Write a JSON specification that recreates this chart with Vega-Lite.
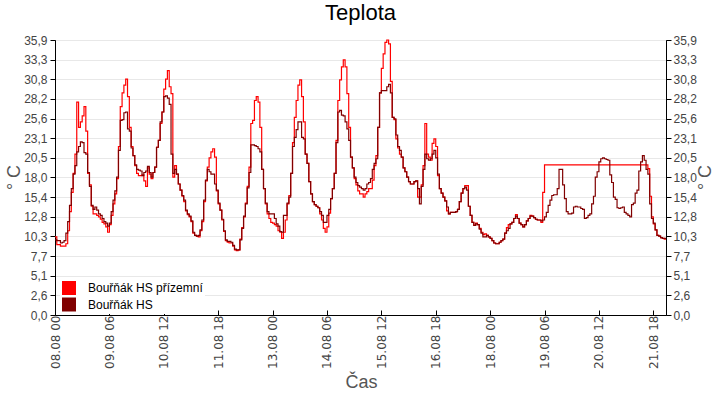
{
  "$schema": "https://vega.github.io/schema/vega-lite/v6.json",
  "width": 611,
  "height": 275,
  "autosize": {"type": "none"},
  "padding": {"left": 55, "top": 40, "right": 54, "bottom": 85},
  "background": "white",
  "title": {"text": "Teplota", "font": "Liberation Sans", "fontSize": 22, "fontWeight": "normal", "color": "#000", "anchor": "middle", "offset": 9},
  "config": {
    "view": {"stroke": "#000", "strokeWidth": 1},
    "axis": {"domainColor": "#000", "tickColor": "#000", "labelColor": "#444", "titleColor": "#555", "titleFontWeight": "normal", "labelFlush": false, "labelOverlap": false}
  },
  "data": {"values": [
    {"t":"2018-08-08T00:00","p":10.2,"h":9.8},{"t":"2018-08-08T01:00","p":9.2,"h":9.7},{"t":"2018-08-08T02:00","p":9.2,"h":9.7},{"t":"2018-08-08T03:00","p":9.0,"h":9.4},
    {"t":"2018-08-08T04:00","p":9.0,"h":9.5},{"t":"2018-08-08T05:00","p":9.0,"h":9.7},{"t":"2018-08-08T06:00","p":9.3,"h":10.7},{"t":"2018-08-08T07:00","p":11.0,"h":12.2},
    {"t":"2018-08-08T08:00","p":13.5,"h":14.3},{"t":"2018-08-08T09:00","p":16.0,"h":16.5},{"t":"2018-08-08T10:00","p":18.5,"h":18.4},{"t":"2018-08-08T11:00","p":21.0,"h":19.5},
    {"t":"2018-08-08T12:00","p":27.8,"h":21.3},{"t":"2018-08-08T13:00","p":24.5,"h":22.0},{"t":"2018-08-08T14:00","p":25.2,"h":22.6},{"t":"2018-08-08T15:00","p":26.0,"h":22.5},
    {"t":"2018-08-08T16:00","p":27.2,"h":21.2},{"t":"2018-08-08T17:00","p":24.0,"h":21.0},{"t":"2018-08-08T18:00","p":18.5,"h":18.6},{"t":"2018-08-08T19:00","p":17.0,"h":16.8},
    {"t":"2018-08-08T20:00","p":14.2,"h":14.3},{"t":"2018-08-08T21:00","p":13.2,"h":13.8},{"t":"2018-08-08T22:00","p":13.2,"h":14.1},{"t":"2018-08-08T23:00","p":13.0,"h":13.7},
    {"t":"2018-08-09T00:00","p":12.8,"h":13.2},{"t":"2018-08-09T01:00","p":12.5,"h":13.0},{"t":"2018-08-09T02:00","p":12.1,"h":12.6},{"t":"2018-08-09T03:00","p":11.9,"h":12.2},
    {"t":"2018-08-09T04:00","p":11.5,"h":12.0},{"t":"2018-08-09T05:00","p":10.8,"h":11.6},{"t":"2018-08-09T06:00","p":11.8,"h":12.0},{"t":"2018-08-09T07:00","p":13.0,"h":13.5},
    {"t":"2018-08-09T08:00","p":14.5,"h":15.0},{"t":"2018-08-09T09:00","p":15.8,"h":16.2},{"t":"2018-08-09T10:00","p":17.8,"h":18.0},{"t":"2018-08-09T11:00","p":22.0,"h":21.5},
    {"t":"2018-08-09T12:00","p":27.2,"h":25.4},{"t":"2018-08-09T13:00","p":29.0,"h":25.5},{"t":"2018-08-09T14:00","p":30.0,"h":26.4},{"t":"2018-08-09T15:00","p":30.8,"h":26.5},
    {"t":"2018-08-09T16:00","p":28.5,"h":24.3},{"t":"2018-08-09T17:00","p":24.5,"h":24.0},{"t":"2018-08-09T18:00","p":22.0,"h":21.8},{"t":"2018-08-09T19:00","p":20.8,"h":20.8},
    {"t":"2018-08-09T20:00","p":19.5,"h":19.6},{"t":"2018-08-09T21:00","p":18.5,"h":19.0},{"t":"2018-08-09T22:00","p":18.2,"h":18.9},{"t":"2018-08-09T23:00","p":18.2,"h":18.8},
    {"t":"2018-08-10T00:00","p":18.3,"h":18.2},{"t":"2018-08-10T01:00","p":17.5,"h":18.6},{"t":"2018-08-10T02:00","p":16.8,"h":18.8},{"t":"2018-08-10T03:00","p":19.2,"h":19.4},
    {"t":"2018-08-10T04:00","p":18.4,"h":18.6},{"t":"2018-08-10T05:00","p":17.8,"h":18.0},{"t":"2018-08-10T06:00","p":18.6,"h":18.6},{"t":"2018-08-10T07:00","p":19.3,"h":19.3},
    {"t":"2018-08-10T08:00","p":21.9,"h":21.9},{"t":"2018-08-10T09:00","p":22.8,"h":22.8},{"t":"2018-08-10T10:00","p":25.0,"h":25.2},{"t":"2018-08-10T11:00","p":26.5,"h":26.5},
    {"t":"2018-08-10T12:00","p":29.5,"h":28.5},{"t":"2018-08-10T13:00","p":30.8,"h":28.6},{"t":"2018-08-10T14:00","p":31.9,"h":28.3},{"t":"2018-08-10T15:00","p":29.8,"h":27.5},
    {"t":"2018-08-10T16:00","p":28.9,"h":21.0},{"t":"2018-08-10T17:00","p":18.0,"h":18.5},{"t":"2018-08-10T18:00","p":19.5,"h":19.0},{"t":"2018-08-10T19:00","p":18.4,"h":18.4},
    {"t":"2018-08-10T20:00","p":17.1,"h":17.1},{"t":"2018-08-10T21:00","p":16.3,"h":16.3},{"t":"2018-08-10T22:00","p":15.5,"h":15.6},{"t":"2018-08-10T23:00","p":14.8,"h":15.0},
    {"t":"2018-08-11T00:00","p":13.6,"h":13.7},{"t":"2018-08-11T01:00","p":13.1,"h":13.2},{"t":"2018-08-11T02:00","p":12.8,"h":12.9},{"t":"2018-08-11T03:00","p":12.2,"h":12.3},
    {"t":"2018-08-11T04:00","p":10.7,"h":10.8},{"t":"2018-08-11T05:00","p":10.4,"h":10.4},{"t":"2018-08-11T06:00","p":10.3,"h":10.3},{"t":"2018-08-11T07:00","p":10.2,"h":10.4},
    {"t":"2018-08-11T08:00","p":11.0,"h":11.1},{"t":"2018-08-11T09:00","p":12.2,"h":12.4},{"t":"2018-08-11T10:00","p":14.8,"h":15.0},{"t":"2018-08-11T11:00","p":17.5,"h":17.6},
    {"t":"2018-08-11T12:00","p":19.3,"h":19.0},{"t":"2018-08-11T13:00","p":20.5,"h":18.7},{"t":"2018-08-11T14:00","p":21.3,"h":18.4},{"t":"2018-08-11T15:00","p":21.7,"h":18.4},
    {"t":"2018-08-11T16:00","p":20.6,"h":17.1},{"t":"2018-08-11T17:00","p":16.2,"h":16.3},{"t":"2018-08-11T18:00","p":14.5,"h":14.6},{"t":"2018-08-11T19:00","p":13.7,"h":13.7},
    {"t":"2018-08-11T20:00","p":12.4,"h":12.5},{"t":"2018-08-11T21:00","p":10.9,"h":11.0},{"t":"2018-08-11T22:00","p":9.7,"h":9.8},{"t":"2018-08-11T23:00","p":9.5,"h":9.6},
    {"t":"2018-08-12T00:00","p":9.4,"h":9.6},{"t":"2018-08-12T01:00","p":9.4,"h":9.5},{"t":"2018-08-12T02:00","p":9.0,"h":9.1},{"t":"2018-08-12T03:00","p":8.5,"h":8.6},
    {"t":"2018-08-12T04:00","p":8.4,"h":8.5},{"t":"2018-08-12T05:00","p":8.5,"h":8.5},{"t":"2018-08-12T06:00","p":9.9,"h":9.8},{"t":"2018-08-12T07:00","p":11.4,"h":11.3},
    {"t":"2018-08-12T08:00","p":12.8,"h":12.9},{"t":"2018-08-12T09:00","p":14.6,"h":14.5},{"t":"2018-08-12T10:00","p":16.8,"h":16.6},{"t":"2018-08-12T11:00","p":19.3,"h":18.6},
    {"t":"2018-08-12T12:00","p":25.0,"h":22.2},{"t":"2018-08-12T13:00","p":25.4,"h":22.2},{"t":"2018-08-12T14:00","p":28.0,"h":22.1},{"t":"2018-08-12T15:00","p":28.5,"h":22.0},
    {"t":"2018-08-12T16:00","p":27.8,"h":21.7},{"t":"2018-08-12T17:00","p":24.5,"h":21.3},{"t":"2018-08-12T18:00","p":19.0,"h":19.0},{"t":"2018-08-12T19:00","p":16.5,"h":16.5},
    {"t":"2018-08-12T20:00","p":14.5,"h":14.6},{"t":"2018-08-12T21:00","p":13.2,"h":13.5},{"t":"2018-08-12T22:00","p":12.6,"h":13.2},{"t":"2018-08-12T23:00","p":12.1,"h":13.2},
    {"t":"2018-08-13T00:00","p":12.0,"h":13.2},{"t":"2018-08-13T01:00","p":11.8,"h":12.6},{"t":"2018-08-13T02:00","p":11.6,"h":11.9},{"t":"2018-08-13T03:00","p":11.0,"h":11.6},
    {"t":"2018-08-13T04:00","p":10.8,"h":10.9},{"t":"2018-08-13T05:00","p":10.0,"h":10.8},{"t":"2018-08-13T06:00","p":10.8,"h":13.0},{"t":"2018-08-13T07:00","p":12.4,"h":13.0},
    {"t":"2018-08-13T08:00","p":14.5,"h":14.6},{"t":"2018-08-13T09:00","p":15.6,"h":15.4},{"t":"2018-08-13T10:00","p":18.5,"h":18.5},{"t":"2018-08-13T11:00","p":22.5,"h":22.0},
    {"t":"2018-08-13T12:00","p":25.8,"h":23.2},{"t":"2018-08-13T13:00","p":28.0,"h":24.2},{"t":"2018-08-13T14:00","p":30.0,"h":25.2},{"t":"2018-08-13T15:00","p":30.7,"h":25.2},
    {"t":"2018-08-13T16:00","p":28.5,"h":23.2},{"t":"2018-08-13T17:00","p":25.2,"h":23.0},{"t":"2018-08-13T18:00","p":21.0,"h":21.0},{"t":"2018-08-13T19:00","p":19.8,"h":19.8},
    {"t":"2018-08-13T20:00","p":17.4,"h":17.4},{"t":"2018-08-13T21:00","p":15.8,"h":15.8},{"t":"2018-08-13T22:00","p":14.8,"h":14.8},{"t":"2018-08-13T23:00","p":14.4,"h":14.4},
    {"t":"2018-08-14T00:00","p":14.2,"h":14.2},{"t":"2018-08-14T01:00","p":14.0,"h":14.0},{"t":"2018-08-14T02:00","p":13.2,"h":13.5},{"t":"2018-08-14T03:00","p":12.4,"h":13.0},
    {"t":"2018-08-14T04:00","p":11.3,"h":12.1},{"t":"2018-08-14T05:00","p":10.8,"h":12.1},{"t":"2018-08-14T06:00","p":11.5,"h":13.0},{"t":"2018-08-14T07:00","p":13.3,"h":13.8},
    {"t":"2018-08-14T08:00","p":15.2,"h":15.2},{"t":"2018-08-14T09:00","p":16.5,"h":16.5},{"t":"2018-08-14T10:00","p":18.5,"h":18.5},{"t":"2018-08-14T11:00","p":22.8,"h":22.5},
    {"t":"2018-08-14T12:00","p":28.0,"h":26.5},{"t":"2018-08-14T13:00","p":30.7,"h":26.7},{"t":"2018-08-14T14:00","p":32.4,"h":26.1},{"t":"2018-08-14T15:00","p":33.3,"h":26.0},
    {"t":"2018-08-14T16:00","p":32.4,"h":25.2},{"t":"2018-08-14T17:00","p":28.9,"h":24.3},{"t":"2018-08-14T18:00","p":24.5,"h":22.8},{"t":"2018-08-14T19:00","p":20.6,"h":20.6},
    {"t":"2018-08-14T20:00","p":19.2,"h":19.2},{"t":"2018-08-14T21:00","p":17.8,"h":18.0},{"t":"2018-08-14T22:00","p":17.0,"h":17.3},{"t":"2018-08-14T23:00","p":16.2,"h":16.9},
    {"t":"2018-08-15T00:00","p":15.8,"h":16.7},{"t":"2018-08-15T01:00","p":15.8,"h":16.5},{"t":"2018-08-15T02:00","p":15.4,"h":16.3},{"t":"2018-08-15T03:00","p":15.8,"h":16.5},
    {"t":"2018-08-15T04:00","p":16.1,"h":17.1},{"t":"2018-08-15T05:00","p":16.5,"h":17.3},{"t":"2018-08-15T06:00","p":16.5,"h":17.8},{"t":"2018-08-15T07:00","p":17.6,"h":19.0},
    {"t":"2018-08-15T08:00","p":19.5,"h":19.8},{"t":"2018-08-15T09:00","p":20.8,"h":20.4},{"t":"2018-08-15T10:00","p":24.5,"h":24.5},{"t":"2018-08-15T11:00","p":29.0,"h":29.0},
    {"t":"2018-08-15T12:00","p":32.2,"h":29.3},{"t":"2018-08-15T13:00","p":34.1,"h":29.3},{"t":"2018-08-15T14:00","p":35.6,"h":29.3},{"t":"2018-08-15T15:00","p":35.9,"h":29.8},
    {"t":"2018-08-15T16:00","p":35.4,"h":30.1},{"t":"2018-08-15T17:00","p":30.5,"h":29.0},{"t":"2018-08-15T18:00","p":25.8,"h":25.8},{"t":"2018-08-15T19:00","p":25.5,"h":25.6},
    {"t":"2018-08-15T20:00","p":23.0,"h":23.5},{"t":"2018-08-15T21:00","p":21.8,"h":22.0},{"t":"2018-08-15T22:00","p":21.0,"h":21.5},{"t":"2018-08-15T23:00","p":20.6,"h":20.6},
    {"t":"2018-08-16T00:00","p":19.2,"h":19.2},{"t":"2018-08-16T01:00","p":18.7,"h":18.7},{"t":"2018-08-16T02:00","p":18.0,"h":18.0},{"t":"2018-08-16T03:00","p":17.4,"h":17.4},
    {"t":"2018-08-16T04:00","p":17.1,"h":17.1},{"t":"2018-08-16T05:00","p":17.1,"h":17.1},{"t":"2018-08-16T06:00","p":17.4,"h":17.4},{"t":"2018-08-16T07:00","p":17.5,"h":17.5},
    {"t":"2018-08-16T08:00","p":15.4,"h":16.5},{"t":"2018-08-16T09:00","p":15.4,"h":14.5},{"t":"2018-08-16T10:00","p":17.0,"h":16.8},{"t":"2018-08-16T11:00","p":19.5,"h":19.0},
    {"t":"2018-08-16T12:00","p":25.0,"h":21.0},{"t":"2018-08-16T13:00","p":21.0,"h":20.4},{"t":"2018-08-16T14:00","p":20.6,"h":20.2},{"t":"2018-08-16T15:00","p":20.2,"h":20.4},
    {"t":"2018-08-16T16:00","p":22.4,"h":21.0},{"t":"2018-08-16T17:00","p":23.0,"h":21.5},{"t":"2018-08-16T18:00","p":22.0,"h":20.5},{"t":"2018-08-16T19:00","p":18.2,"h":18.4},
    {"t":"2018-08-16T20:00","p":16.5,"h":16.5},{"t":"2018-08-16T21:00","p":15.9,"h":15.9},{"t":"2018-08-16T22:00","p":15.4,"h":15.4},{"t":"2018-08-16T23:00","p":14.9,"h":14.9},
    {"t":"2018-08-17T00:00","p":13.6,"h":14.1},{"t":"2018-08-17T01:00","p":13.2,"h":13.2},{"t":"2018-08-17T02:00","p":13.4,"h":13.4},{"t":"2018-08-17T03:00","p":13.4,"h":13.4},
    {"t":"2018-08-17T04:00","p":13.4,"h":13.4},{"t":"2018-08-17T05:00","p":13.5,"h":13.5},{"t":"2018-08-17T06:00","p":13.8,"h":13.8},{"t":"2018-08-17T07:00","p":14.8,"h":14.8},
    {"t":"2018-08-17T08:00","p":15.9,"h":15.9},{"t":"2018-08-17T09:00","p":16.5,"h":16.5},{"t":"2018-08-17T10:00","p":16.9,"h":16.7},{"t":"2018-08-17T11:00","p":16.9,"h":16.3},
    {"t":"2018-08-17T12:00","p":14.2,"h":14.2},{"t":"2018-08-17T13:00","p":13.0,"h":13.0},{"t":"2018-08-17T14:00","p":12.1,"h":12.1},{"t":"2018-08-17T15:00","p":11.7,"h":11.7},
    {"t":"2018-08-17T16:00","p":12.0,"h":11.9},{"t":"2018-08-17T17:00","p":11.8,"h":11.8},{"t":"2018-08-17T18:00","p":11.3,"h":11.2},{"t":"2018-08-17T19:00","p":10.8,"h":10.7},
    {"t":"2018-08-17T20:00","p":10.5,"h":10.2},{"t":"2018-08-17T21:00","p":10.6,"h":10.2},{"t":"2018-08-17T22:00","p":10.4,"h":10.4},{"t":"2018-08-17T23:00","p":10.2,"h":10.2},
    {"t":"2018-08-18T00:00","p":10.0,"h":10.0},{"t":"2018-08-18T01:00","p":9.7,"h":9.7},{"t":"2018-08-18T02:00","p":9.4,"h":9.4},{"t":"2018-08-18T03:00","p":9.3,"h":9.3},
    {"t":"2018-08-18T04:00","p":9.3,"h":9.3},{"t":"2018-08-18T05:00","p":9.5,"h":9.5},{"t":"2018-08-18T06:00","p":9.7,"h":9.7},{"t":"2018-08-18T07:00","p":9.9,"h":9.9},
    {"t":"2018-08-18T08:00","p":10.7,"h":10.7},{"t":"2018-08-18T09:00","p":11.4,"h":11.0},{"t":"2018-08-18T10:00","p":11.8,"h":11.3},{"t":"2018-08-18T11:00","p":11.9,"h":11.9},
    {"t":"2018-08-18T12:00","p":12.1,"h":12.1},{"t":"2018-08-18T13:00","p":12.6,"h":12.6},{"t":"2018-08-18T14:00","p":13.1,"h":12.9},{"t":"2018-08-18T15:00","p":12.6,"h":12.6},
    {"t":"2018-08-18T16:00","p":12.0,"h":12.0},{"t":"2018-08-18T17:00","p":11.8,"h":11.8},{"t":"2018-08-18T18:00","p":11.5,"h":11.5},{"t":"2018-08-18T19:00","p":11.8,"h":11.8},
    {"t":"2018-08-18T20:00","p":12.3,"h":12.3},{"t":"2018-08-18T21:00","p":12.6,"h":12.6},{"t":"2018-08-18T22:00","p":13.0,"h":12.9},{"t":"2018-08-18T23:00","p":12.9,"h":12.9},
    {"t":"2018-08-19T00:00","p":12.7,"h":12.7},{"t":"2018-08-19T01:00","p":12.5,"h":12.5},{"t":"2018-08-19T02:00","p":12.4,"h":12.4},{"t":"2018-08-19T03:00","p":12.4,"h":12.4},
    {"t":"2018-08-19T04:00","p":12.1,"h":12.3},{"t":"2018-08-19T05:00","p":16.0,"h":12.4},{"t":"2018-08-19T06:00","p":19.6,"h":12.8},{"t":"2018-08-19T07:00","p":19.6,"h":13.4},
    {"t":"2018-08-19T08:00","p":19.6,"h":14.3},{"t":"2018-08-19T09:00","p":19.6,"h":15.0},{"t":"2018-08-19T10:00","p":19.6,"h":15.6},{"t":"2018-08-19T11:00","p":19.6,"h":15.7},
    {"t":"2018-08-19T12:00","p":19.6,"h":15.7},{"t":"2018-08-19T13:00","p":19.6,"h":16.5},{"t":"2018-08-19T14:00","p":19.6,"h":19.0},{"t":"2018-08-19T15:00","p":19.6,"h":19.0},
    {"t":"2018-08-19T16:00","p":19.6,"h":17.0},{"t":"2018-08-19T17:00","p":19.6,"h":15.2},{"t":"2018-08-19T18:00","p":19.6,"h":13.5},{"t":"2018-08-19T19:00","p":19.6,"h":13.2},
    {"t":"2018-08-19T20:00","p":19.6,"h":13.2},{"t":"2018-08-19T21:00","p":19.6,"h":13.3},{"t":"2018-08-19T22:00","p":19.6,"h":14.1},{"t":"2018-08-19T23:00","p":19.6,"h":14.2},
    {"t":"2018-08-20T00:00","p":19.6,"h":14.1},{"t":"2018-08-20T01:00","p":19.6,"h":14.1},{"t":"2018-08-20T02:00","p":19.6,"h":13.9},{"t":"2018-08-20T03:00","p":19.6,"h":13.8},
    {"t":"2018-08-20T04:00","p":19.6,"h":12.6},{"t":"2018-08-20T05:00","p":19.6,"h":12.7},{"t":"2018-08-20T06:00","p":19.6,"h":13.0},{"t":"2018-08-20T07:00","p":19.6,"h":13.2},
    {"t":"2018-08-20T08:00","p":19.6,"h":14.5},{"t":"2018-08-20T09:00","p":19.6,"h":15.5},{"t":"2018-08-20T10:00","p":19.6,"h":18.0},{"t":"2018-08-20T11:00","p":19.6,"h":18.7},
    {"t":"2018-08-20T12:00","p":19.6,"h":20.0},{"t":"2018-08-20T13:00","p":19.6,"h":20.4},{"t":"2018-08-20T14:00","p":19.6,"h":20.5},{"t":"2018-08-20T15:00","p":19.6,"h":20.4},
    {"t":"2018-08-20T16:00","p":19.6,"h":20.3},{"t":"2018-08-20T17:00","p":19.6,"h":20.2},{"t":"2018-08-20T18:00","p":19.6,"h":18.3},{"t":"2018-08-20T19:00","p":19.6,"h":17.3},
    {"t":"2018-08-20T20:00","p":19.6,"h":15.4},{"t":"2018-08-20T21:00","p":19.6,"h":15.1},{"t":"2018-08-20T22:00","p":19.6,"h":14.0},{"t":"2018-08-20T23:00","p":19.6,"h":13.9},
    {"t":"2018-08-21T00:00","p":19.6,"h":14.0},{"t":"2018-08-21T01:00","p":19.6,"h":14.1},{"t":"2018-08-21T02:00","p":19.6,"h":13.4},{"t":"2018-08-21T03:00","p":19.6,"h":13.2},
    {"t":"2018-08-21T04:00","p":19.6,"h":13.0},{"t":"2018-08-21T05:00","p":19.6,"h":12.8},{"t":"2018-08-21T06:00","p":19.6,"h":14.4},{"t":"2018-08-21T07:00","p":19.6,"h":14.6},
    {"t":"2018-08-21T08:00","p":19.6,"h":15.9},{"t":"2018-08-21T09:00","p":19.6,"h":16.3},{"t":"2018-08-21T10:00","p":19.6,"h":18.8},{"t":"2018-08-21T11:00","p":19.6,"h":20.0},
    {"t":"2018-08-21T12:00","p":19.6,"h":20.8},{"t":"2018-08-21T13:00","p":19.6,"h":20.2},{"t":"2018-08-21T14:00","p":19.6,"h":19.0},{"t":"2018-08-21T15:00","p":19.1,"h":18.4},
    {"t":"2018-08-21T16:00","p":15.5,"h":14.5},{"t":"2018-08-21T17:00","p":12.8,"h":12.6},{"t":"2018-08-21T18:00","p":11.9,"h":12.0},{"t":"2018-08-21T19:00","p":11.1,"h":11.1},
    {"t":"2018-08-21T20:00","p":10.4,"h":10.4},{"t":"2018-08-21T21:00","p":10.3,"h":10.3},{"t":"2018-08-21T22:00","p":10.1,"h":10.1},{"t":"2018-08-21T23:00","p":10.0,"h":10.0},
    {"t":"2018-08-22T00:00","p":9.9,"h":10.0},{"t":"2018-08-22T01:00","p":9.9,"h":10.0}
  ]},
  "transform": [{"fold": ["p", "h"], "as": ["serie", "teplota"]}],
  "encoding": {
    "x": {
      "field": "t", "type": "temporal",
      "scale": {"domain": [{"year": 2018, "month": 8, "date": 8, "hours": 0}, {"year": 2018, "month": 8, "date": 22, "hours": 1}], "nice": false},
      "axis": {
        "values": [
          {"year": 2018, "month": 8, "date": 8, "hours": 0}, {"year": 2018, "month": 8, "date": 9, "hours": 6},
          {"year": 2018, "month": 8, "date": 10, "hours": 12}, {"year": 2018, "month": 8, "date": 11, "hours": 18},
          {"year": 2018, "month": 8, "date": 13, "hours": 0}, {"year": 2018, "month": 8, "date": 14, "hours": 6},
          {"year": 2018, "month": 8, "date": 15, "hours": 12}, {"year": 2018, "month": 8, "date": 16, "hours": 18},
          {"year": 2018, "month": 8, "date": 18, "hours": 0}, {"year": 2018, "month": 8, "date": 19, "hours": 6},
          {"year": 2018, "month": 8, "date": 20, "hours": 12}, {"year": 2018, "month": 8, "date": 21, "hours": 18}
        ],
        "format": "%d.%m %H", "labelAngle": 270, "labelFont": "DejaVu Sans", "labelFontSize": 12,
        "tickSize": -5, "labelPadding": 5, "grid": false,
        "title": "Čas", "titleFont": "Liberation Sans", "titleFontSize": 18,
        "titleX": 306, "titleY": 67, "titleBaseline": "middle"
      }
    }
  },
  "layer": [
    {
      "mark": {"type": "line", "interpolate": "step-after", "strokeWidth": 1.2},
      "encoding": {
        "y": {
          "field": "teplota", "type": "quantitative",
          "scale": {"domain": [0, 35.9], "nice": false, "zero": true},
          "axis": {
            "orient": "left",
            "values": [0, 2.564, 5.129, 7.693, 10.257, 12.821, 15.386, 17.951, 20.514, 23.079, 25.643, 28.207, 30.771, 33.336, 35.9],
            "labelExpr": "replace(format(datum.value, '.1f'), '.', ',')",
            "labelFont": "Liberation Sans", "labelFontSize": 12, "tickSize": 5, "labelPadding": 3,
            "grid": true, "gridColor": "#e8e8e8",
            "title": "° C", "titleFont": "Liberation Sans", "titleFontSize": 18,
            "titleAngle": 270, "titleX": -41, "titleY": 137, "titleBaseline": "middle", "titleAlign": "center"
          }
        },
        "color": {
          "field": "serie", "type": "nominal",
          "scale": {"domain": ["p", "h"], "range": ["#ff0000", "#800000"]},
          "legend": {
            "orient": "none", "legendX": 5, "legendY": 239, "title": null,
            "symbolType": "square", "symbolSize": 196, "symbolStrokeWidth": 0,
            "labelFont": "Liberation Sans", "labelFontSize": 12, "labelColor": "#000",
            "labelOffset": 12, "rowPadding": 2.5, "padding": 2, "fillColor": "white",
            "labelExpr": "datum.label == 'p' ? 'Bouřňák HS přízemní' : 'Bouřňák HS'",
            "encode": {"symbols": {"update": {"fill": {"scale": "color", "field": "value"}, "strokeWidth": {"value": 0}}}}
          }
        }
      }
    },
    {
      "mark": {"type": "line", "strokeOpacity": 0},
      "encoding": {
        "y": {
          "field": "teplota", "type": "quantitative",
          "axis": {
            "orient": "right",
            "values": [0, 2.564, 5.129, 7.693, 10.257, 12.821, 15.386, 17.951, 20.514, 23.079, 25.643, 28.207, 30.771, 33.336, 35.9],
            "labelExpr": "replace(format(datum.value, '.1f'), '.', ',')",
            "labelFont": "Liberation Sans", "labelFontSize": 12, "tickSize": 5, "labelPadding": 2,
            "grid": false,
            "title": "° C", "titleFont": "Liberation Sans", "titleFontSize": 18,
            "titleAngle": 270, "titleX": 39, "titleY": 137, "titleBaseline": "middle", "titleAlign": "center"
          }
        }
      }
    }
  ],
  "resolve": {"axis": {"y": "independent"}}
}
